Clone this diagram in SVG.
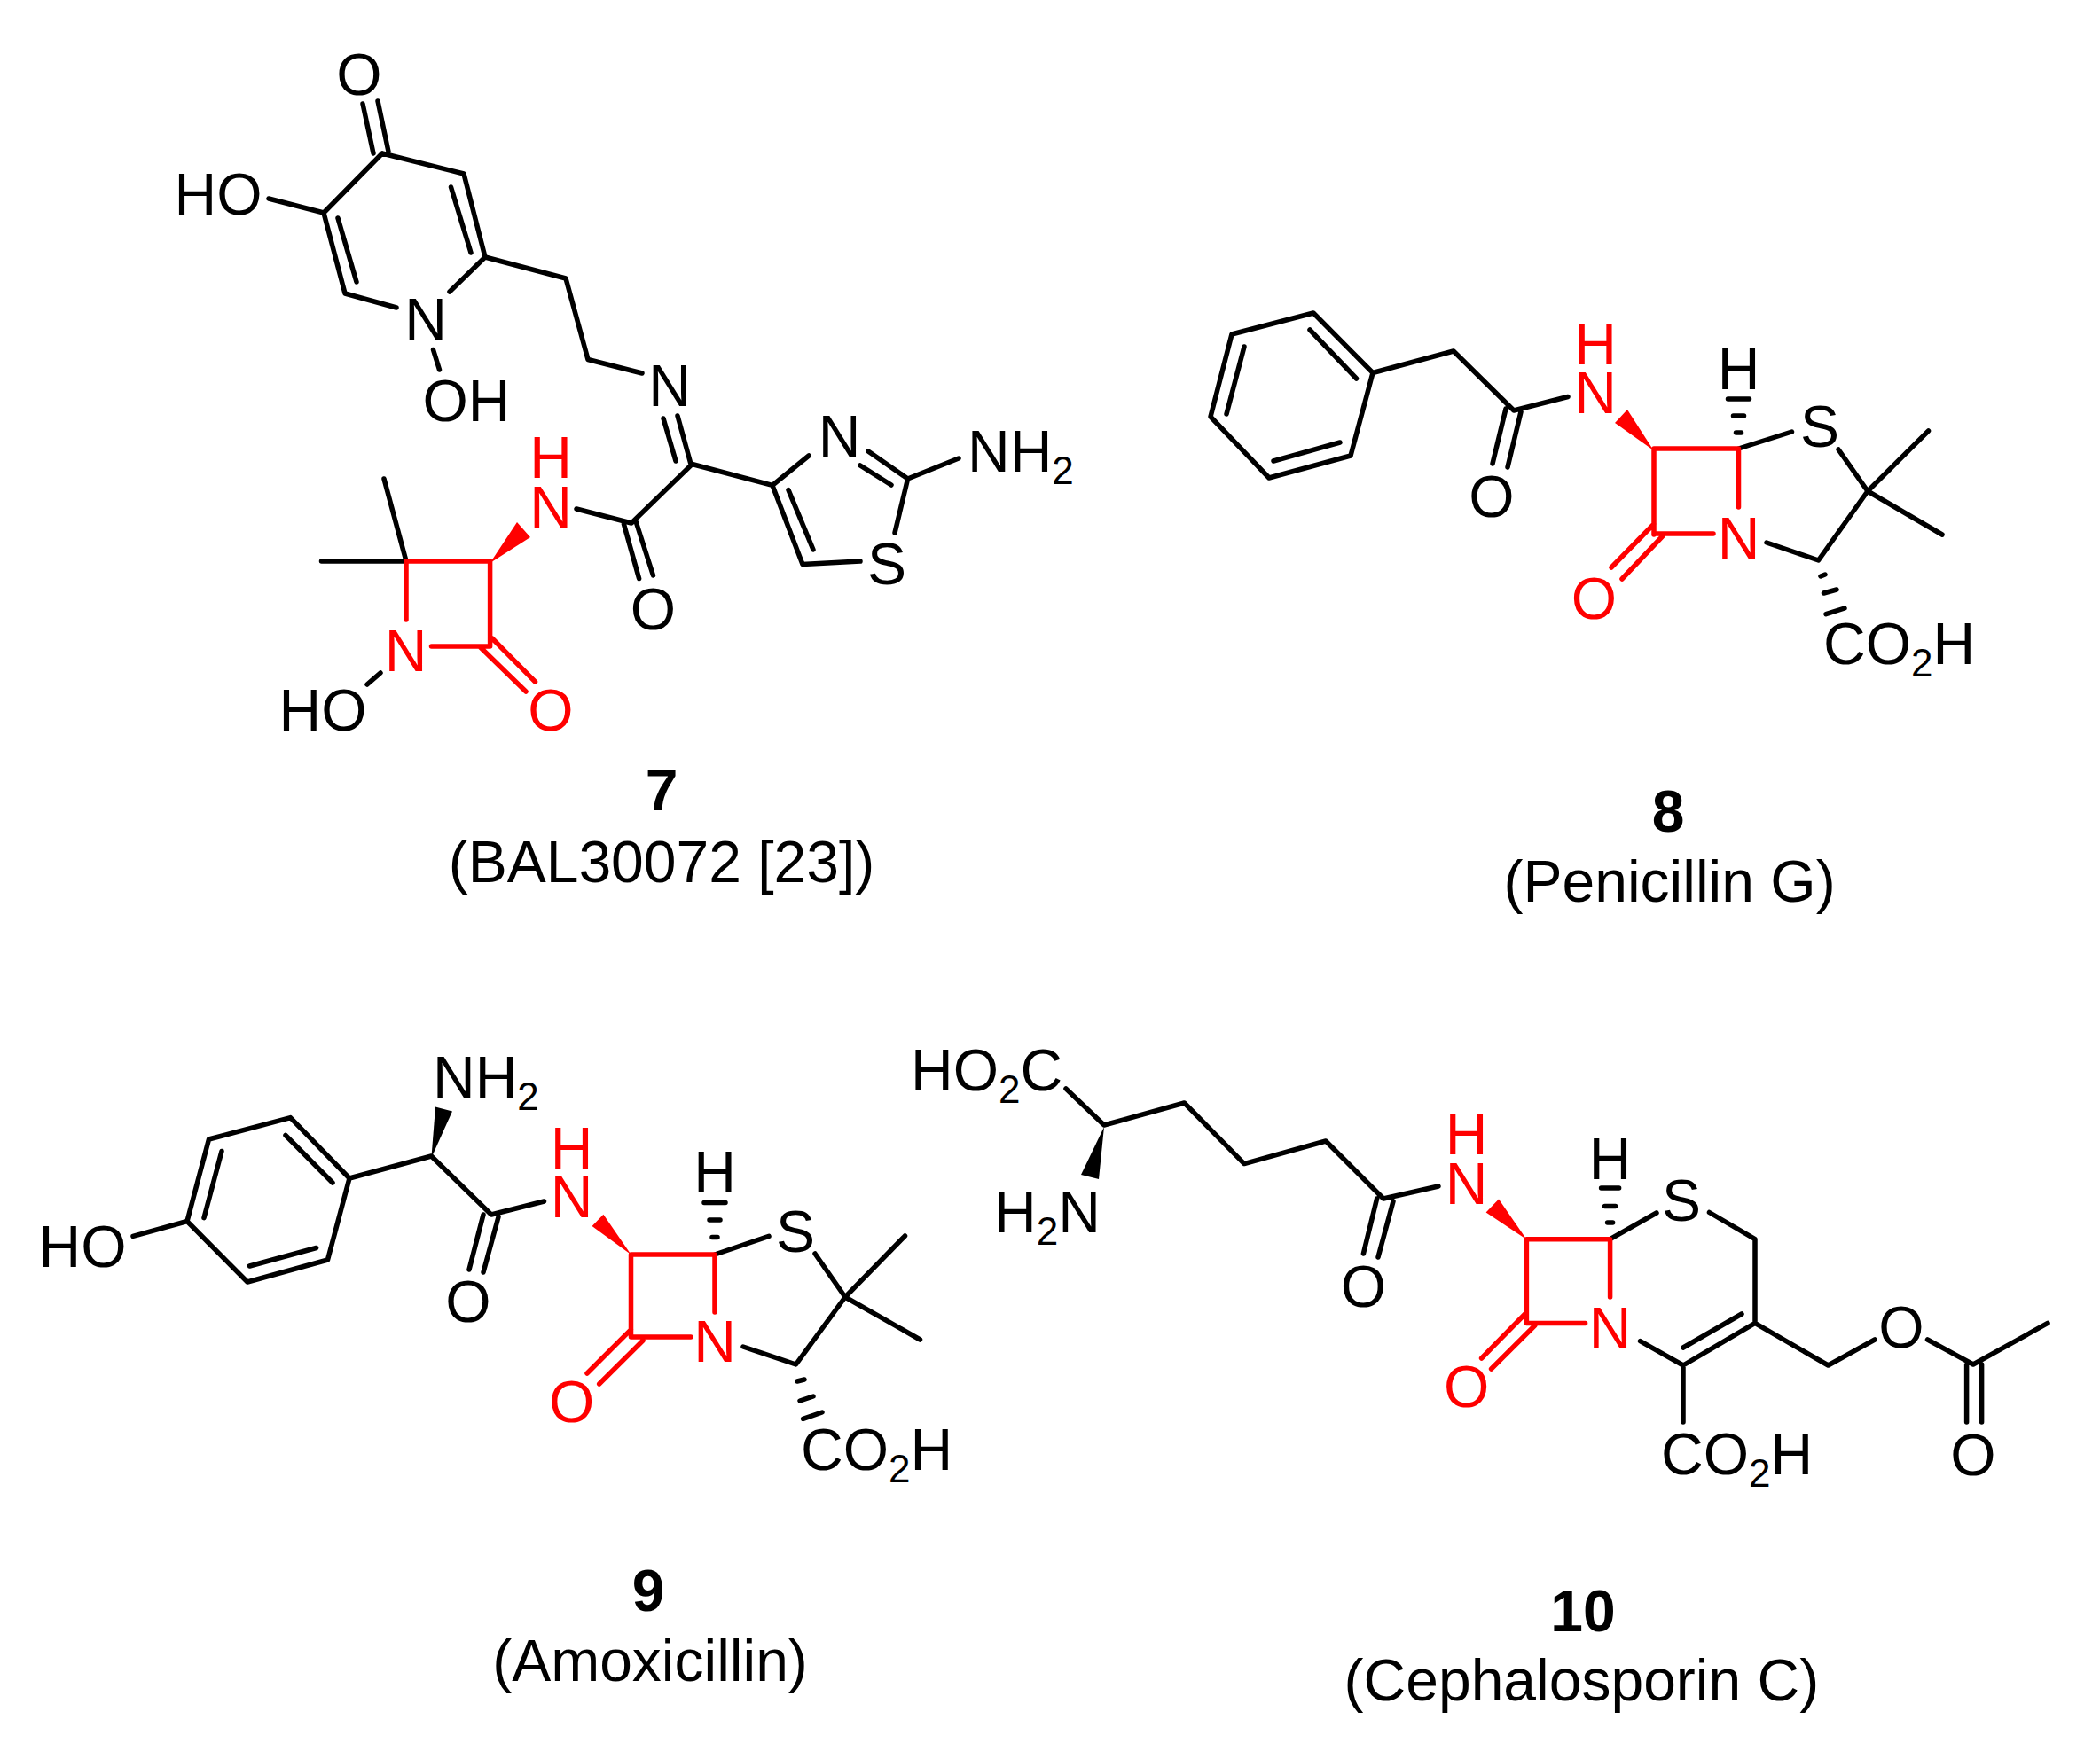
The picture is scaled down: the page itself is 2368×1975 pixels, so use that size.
<svg xmlns="http://www.w3.org/2000/svg" width="2368" height="1975" viewBox="0 0 2368 1975">
<style>
text{font-family:"Liberation Sans",Arial,sans-serif;fill:#000}
.a{font-size:66px;text-anchor:middle}
.l{font-size:66px;text-anchor:start}
.r{fill:#f00}
.c{font-size:66px;text-anchor:middle}
.n{font-size:66px;font-weight:bold;text-anchor:middle}
.b{fill:none;stroke:#000;stroke-width:5.5;stroke-linecap:round;stroke-linejoin:round}
.br{fill:none;stroke:#f00;stroke-width:5.5;stroke-linecap:round;stroke-linejoin:round}
.s{font-size:44px}
</style>
<rect width="2368" height="1975" fill="#fff"/>
<g id="compound-7">
<path class="b" d="M409 117L421 173M426 114L438 171M431 173L523 196L547 290L507 329M431 173L365 240L303 224M365 240L389 331L447 347M508.500 211L531 285M381 246L402 318M547 290L638 314L663 405.500L724 421M488.500 394.500L495.500 417M748 472L762 520M764 469L779 523.500M650 574L712 590L780.500 523.500L871 547.400L912 514M979 509L1023.600 540L1081 517M970 525L1005 547M1023.600 540L1009 601M871 547.400L905 636.500L970 633M889 552.600L917 620M703.400 591L720.600 652.600M717 588L736.500 649M458 633L433 540M458 633L362.500 633M429 759L414 772"/>
<path class="br" d="M458 633L552.600 633L552.600 729L486.500 729M458 633L458 699M541.600 730L593 780M555 720L603.500 769"/>
<polygon fill="#f00" points="552.600,635 583,589 598,606"/>
<text class="a" x="405" y="107">O</text>
<text class="a" x="246" y="242">HO</text>
<text class="a" x="480" y="383">N</text>
<text class="a" x="526" y="475">OH</text>
<text class="a" x="755" y="458">N</text>
<text class="a" x="946.500" y="515">N</text>
<text class="l" x="1091" y="532">NH<tspan class="s" dy="14">2</tspan></text>
<text class="a" x="1000" y="659">S</text>
<text class="a" x="736.500" y="710">O</text>
<text class="a r" x="621" y="539">H</text>
<text class="a r" x="621" y="595">N</text>
<text class="a r" x="457.500" y="757">N</text>
<text class="a r" x="621" y="824">O</text>
<text class="a" x="364" y="824">HO</text>
<text class="n" x="746" y="914">7</text>
<text class="c" x="746" y="995">(BAL30072 [23])</text>
</g>
<g id="compound-8">
<path class="b" d="M1481 353L1389 377L1365 470L1431 539L1523 514L1548 420.500ZM1477 372L1529.500 427M1403 391L1383 467M1436 520L1511 499M1548 420.500L1639 396L1707 463L1768 447.500M1698 461L1683 523M1715 464.500L1700 527M1960.500 506L2020.500 487M2073 507L2106 554L2174.500 486M2106 554L2190 603M2106 554L2050.500 632L1992 612"/>
<path class="br" d="M1865 603L1865 506L1960.500 506L1960.500 572M1865 602L1932 602M1865 591L1817 640M1875 604.500L1829 653"/>
<polygon fill="#f00" points="1864.600,508 1835,462 1821,477"/>
<path class="b" d="M1957.500 488H1963.500M1954.500 469H1966.500M1948.500 450H1972.500M2053 650L2058 648M2056.500 669L2071 665M2059 692.700L2080 686"/>
<text class="a r" x="1799" y="466">N</text>
<text class="a r" x="1799" y="411">H</text>
<text class="a" x="1682" y="583">O</text>
<text class="a r" x="1960.500" y="629.500">N</text>
<text class="a r" x="1797.500" y="697.500">O</text>
<text class="a" x="1960.500" y="439">H</text>
<text class="a" x="2052" y="504">S</text>
<text class="l" x="2056" y="749">CO<tspan class="s" dy="14">2</tspan><tspan dy="-14">H</tspan></text>
<text class="n" x="1881" y="938">8</text>
<text class="c" x="1882.600" y="1017">(Penicillin G)</text>
</g>
<g id="compound-9">
<path class="b" d="M327.500 1260.600L235.500 1285L211 1377.500L279 1446L369.500 1421L394 1329ZM322 1280.500L375 1334M250 1298.500L230 1373.600M281.500 1428L356.600 1407.500M150 1394.400L211 1377.500M394 1329L486.400 1304L554 1370L613.500 1355M545 1370L529 1432M562 1372.600L545 1435M806 1415L867 1394.400M919 1414L953 1463L1020.500 1394M953 1463L1037.500 1511M953 1463L897.500 1539L838 1519"/>
<path class="br" d="M711.500 1508L711.500 1415L806 1415L806 1480M711.500 1508L779 1508M711.500 1499.600L662 1549M725 1512L675.700 1561"/>
<polygon fill="#000" points="486.400,1306 491,1248.500 510,1253.400"/>
<polygon fill="#f00" points="711.500,1415 680.400,1369.700 667.600,1383"/>
<path class="b" d="M803 1395.400H809M800 1376H812M794 1356.600H818M899 1558L907 1556M902 1580L917 1575M905.600 1600.400L927 1593"/>
<text class="a" x="93" y="1429">HO</text>
<text class="l" x="488" y="1238">NH<tspan class="s" dy="14">2</tspan></text>
<text class="a" x="528" y="1490.600">O</text>
<text class="a r" x="644.600" y="1317.600">H</text>
<text class="a r" x="644.600" y="1373">N</text>
<text class="a r" x="806" y="1536">N</text>
<text class="a r" x="644.600" y="1603.600">O</text>
<text class="a" x="806" y="1345">H</text>
<text class="a" x="897" y="1412">S</text>
<text class="l" x="903" y="1657.700">CO<tspan class="s" dy="14">2</tspan><tspan dy="-14">H</tspan></text>
<text class="n" x="731" y="1817">9</text>
<text class="c" x="733" y="1896">(Amoxicillin)</text>
</g>
<g id="compound-10">
<path class="b" d="M1202 1228L1245 1269L1335.500 1244L1403 1312.600L1495 1287L1560 1352L1622 1338M1552.600 1352L1537.400 1414M1571 1355L1554 1418M1815.600 1397.700L1868 1368M1927.500 1367.500L1979 1397.700L1979 1492.400L1898 1540L1849.500 1512.600M1964 1482L1898 1520M1898 1540L1898 1604M1979 1492.400L2061.500 1540L2114 1511M2173.500 1511L2225 1539L2309 1492.400M2217.600 1539L2217.600 1604M2234.600 1539L2234.600 1604"/>
<path class="br" d="M1721.400 1492.400L1721.400 1397.700L1815.600 1397.700L1815.600 1463M1721.400 1492.400L1787.600 1492.400M1719.700 1482L1670.600 1532M1730.800 1495L1681.600 1544"/>
<polygon fill="#000" points="1245,1271 1219,1325 1239,1330"/>
<polygon fill="#f00" points="1721.400,1398 1690,1352.400 1675.600,1367.500"/>
<path class="b" d="M1812.600 1379H1818.600M1809.600 1360.400H1821.600M1805.600 1340H1825.600"/>
<text class="l" x="1027" y="1230">HO<tspan class="s" dy="14">2</tspan><tspan dy="-14">C</tspan></text>
<text class="l" x="1121" y="1389.600">H<tspan class="s" dy="14">2</tspan><tspan dy="-14">N</tspan></text>
<text class="a r" x="1653.600" y="1302">H</text>
<text class="a r" x="1653.600" y="1358">N</text>
<text class="a" x="1537.400" y="1473.600">O</text>
<text class="a r" x="1815.600" y="1520.500">N</text>
<text class="a r" x="1653.600" y="1587">O</text>
<text class="a" x="1815.600" y="1330">H</text>
<text class="a" x="1896" y="1377">S</text>
<text class="l" x="1873" y="1663">CO<tspan class="s" dy="14">2</tspan><tspan dy="-14">H</tspan></text>
<text class="a" x="2144" y="1520">O</text>
<text class="a" x="2225" y="1663.500">O</text>
<text class="n" x="1785" y="1840">10</text>
<text class="c" x="1783.400" y="1918">(Cephalosporin C)</text>
</g>
</svg>
